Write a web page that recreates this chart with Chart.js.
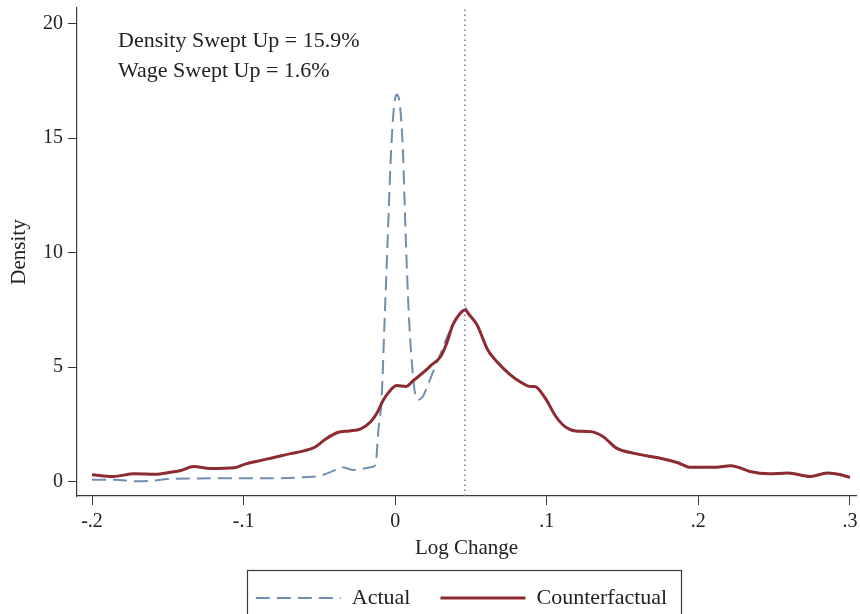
<!DOCTYPE html>
<html>
<head>
<meta charset="utf-8">
<script src="https://cdn.jsdelivr.net/npm/chart.js@4"></script>
<style>
  html, body { margin: 0; padding: 0; background: #fff; }
  #wrap { width: 860px; height: 614px; }
</style>
</head>
<body>
<div id="wrap"><canvas id="densityChart" width="860" height="614"></canvas></div>
<script>
// tick positions
const xTicks = [-0.2, -0.1, 0, 0.1, 0.2, 0.3];
const yTicks = [0, 5, 10, 15, 20];
const markerX = 0.046;
const notes = ["Density Swept Up = 15.9%", "Wage Swept Up = 1.6%"];

// Actual (dashed)
const actualX = [-0.200, -0.185, -0.170, -0.160, -0.150, -0.120, -0.090, -0.060, -0.050, -0.040,
                 -0.035, -0.028, -0.015, -0.013, -0.011, -0.009, -0.007, -0.005, -0.003, -0.001,
                 0.001, 0.003, 0.005, 0.007, 0.009, 0.011, 0.013, 0.015, 0.018, 0.022,
                 0.026, 0.031, 0.034, 0.040, 0.044, 0.046, 0.049, 0.054, 0.061, 0.067,
                 0.076, 0.084, 0.089, 0.092, 0.099, 0.106, 0.112, 0.119, 0.129, 0.137,
                 0.146, 0.157, 0.175, 0.186, 0.195, 0.212, 0.221, 0.226, 0.234, 0.247,
                 0.259, 0.274, 0.285, 0.294, 0.300];
const actualY = [0.09, 0.09, 0.02, 0.05, 0.12, 0.15, 0.15, 0.20, 0.26, 0.50,
                 0.64, 0.52, 0.65, 0.74, 2.30, 3.60, 7.00, 10.5, 14.0, 16.2,
                 16.9, 16.5, 14.6, 10.6, 7.30, 5.20, 3.90, 3.58, 3.70, 4.30,
                 4.97, 5.76, 6.28, 7.07, 7.50, 7.60, 7.28, 6.85, 5.76, 5.25,
                 4.67, 4.30, 4.16, 4.16, 3.65, 2.85, 2.41, 2.22, 2.19, 1.98,
                 1.47, 1.25, 1.03, 0.84, 0.63, 0.63, 0.70, 0.64, 0.45, 0.35,
                 0.38, 0.23, 0.38, 0.31, 0.19];

// Counterfactual (solid)
const cfX = [-0.200, -0.186, -0.172, -0.158, -0.148, -0.142, -0.133, -0.122, -0.106, -0.099,
             -0.091, -0.080, -0.069, -0.061, -0.053, -0.046, -0.038, -0.030, -0.023, -0.016,
             -0.012, -0.008, -0.003, 0.001, 0.007, 0.012, 0.018, 0.024, 0.030, 0.034,
             0.038, 0.043, 0.046, 0.049, 0.054, 0.061, 0.067, 0.076, 0.084, 0.089,
             0.092, 0.099, 0.106, 0.112, 0.119, 0.129, 0.137, 0.146, 0.157, 0.175,
             0.186, 0.195, 0.212, 0.221, 0.226, 0.234, 0.247, 0.259, 0.274, 0.285,
             0.294, 0.300];
const cfY = [0.31, 0.23, 0.35, 0.33, 0.42, 0.48, 0.67, 0.58, 0.61, 0.77,
             0.90, 1.06, 1.23, 1.34, 1.51, 1.86, 2.15, 2.22, 2.30, 2.63,
             3.00, 3.55, 4.01, 4.20, 4.16, 4.42, 4.74, 5.10, 5.47, 6.05,
             6.85, 7.36, 7.50, 7.28, 6.85, 5.76, 5.25, 4.67, 4.30, 4.16,
             4.16, 3.65, 2.85, 2.41, 2.22, 2.19, 1.98, 1.47, 1.25, 1.03,
             0.84, 0.63, 0.63, 0.70, 0.64, 0.45, 0.35, 0.38, 0.23, 0.38,
             0.31, 0.19];

const serif = "'Liberation Serif', 'Times New Roman', serif";
const inkColor = "#222";
const axisColor = "#3a3a3a";

function toPoints(xs, ys) {
    return xs.map((x, i) => ({ x: x, y: ys[i] }));
}

function fmtTick(v) {
    if (Math.abs(v) < 1e-9) return "0";
    let s = Math.abs(v).toFixed(1).replace(/^0/, "");
    return (v < 0 ? "-" : "") + s;
}

// move the legend so it is centred under the plot area, like Stata does
const legendPlacer = {
    id: "legendPlacer",
    afterLayout(chart) {
        chart.legend.left = chart.chartArea.left - 5;
        chart.legend.right = chart.chartArea.right - 5;
    },
    afterDraw(chart) {
        const lg = chart.legend;
        const boxes = lg.legendHitBoxes;
        if (!boxes || !boxes.length) return;
        const ctx = chart.ctx;
        const first = boxes[0];
        const last = boxes[boxes.length - 1];
        const left = Math.round(first.left - 9);
        const right = Math.round(last.left + last.width + 14);
        const top = Math.round(lg.top + 13);
        ctx.save();
        ctx.strokeStyle = axisColor;
        ctx.lineWidth = 1.2;
        ctx.strokeRect(left + 0.5, top + 0.5, right - left, chart.height - top + 10);
        ctx.restore();
    }
};

// text notes in the upper left of the plot
const notesPlugin = {
    id: "notes",
    afterDatasetsDraw(chart) {
        const ctx = chart.ctx;
        const area = chart.chartArea;
        ctx.save();
        ctx.font = "22px " + serif;
        ctx.fillStyle = inkColor;
        ctx.textBaseline = "alphabetic";
        ctx.textAlign = "left";
        notes.forEach((t, i) => ctx.fillText(t, area.left + 41, area.top + 39 + i * 30));
        ctx.restore();
    }
};

let ctx = document.getElementById("densityChart").getContext("2d");

let densityChart = new Chart(ctx, {
    type: "line",
    data: {
        datasets: [
            {
                label: "Actual",
                data: toPoints(actualX, actualY),
                borderColor: "#6f8fb1",
                borderWidth: 2,
                borderDash: [14, 7],
                pointRadius: 0,
                fill: false,
                cubicInterpolationMode: "monotone",
                order: 2
            },
            {
                label: "Counterfactual",
                data: toPoints(cfX, cfY),
                borderColor: "#8e2b30",
                borderWidth: 3,
                pointRadius: 0,
                fill: false,
                cubicInterpolationMode: "monotone",
                order: 1
            },
            {
                label: "marker",
                data: [{ x: markerX, y: -0.62 }, { x: markerX, y: 20.68 }],
                borderColor: "#7a7a7a",
                borderWidth: 1.5,
                borderDash: [1.5, 3.5],
                pointRadius: 0,
                fill: false,
                order: 3
            }
        ]
    },
    options: {
        responsive: false,
        animation: false,
        layout: { padding: { top: 8, right: 4, left: 0, bottom: 0 } },
        plugins: {
            tooltip: { enabled: false },
            legend: {
                position: "bottom",
                maxHeight: 57,
                labels: {
                    filter: item => item.datasetIndex < 2,
                    sort: (a, b) => a.datasetIndex - b.datasetIndex,
                    generateLabels: chart => {
                        const items = Chart.defaults.plugins.legend.labels.generateLabels(chart);
                        items.forEach(item => {
                            const ds = chart.data.datasets[item.datasetIndex];
                            item.lineDash = ds.borderDash || [];
                            item.lineWidth = ds.borderWidth;
                            item.strokeStyle = ds.borderColor;
                        });
                        return items;
                    },
                    usePointStyle: true,
                    pointStyle: "line",
                    pointStyleWidth: 85,
                    padding: 30,
                    color: inkColor,
                    font: { family: serif, size: 22 }
                }
            }
        },
        scales: {
            x: {
                type: "linear",
                min: -0.2099,
                max: 0.304,
                afterBuildTicks: axis => { axis.ticks = xTicks.map(v => ({ value: v })); },
                afterFit: axis => {
                    axis.height = 61;
                    axis.paddingLeft = 0;
                    axis.paddingRight = 0;
                },
                grid: { drawOnChartArea: false, drawTicks: true, tickLength: 9, color: axisColor },
                border: { display: true, color: axisColor, width: 1.2 },
                ticks: {
                    callback: v => fmtTick(v),
                    color: inkColor,
                    padding: 5,
                    maxRotation: 0,
                    font: { family: serif, size: 20 }
                },
                title: {
                    display: true,
                    text: "Log Change",
                    color: inkColor,
                    padding: { top: 0, bottom: -4 },
                    font: { family: serif, size: 21 }
                }
            },
            y: {
                min: -0.62,
                max: 20.68,
                afterBuildTicks: axis => { axis.ticks = yTicks.map(v => ({ value: v })); },
                afterFit: axis => {
                    axis.width = 77;
                    axis.paddingTop = 0;
                    axis.paddingBottom = 0;
                },
                grid: { drawOnChartArea: false, drawTicks: true, tickLength: 9, color: axisColor },
                border: { display: true, color: axisColor, width: 1.2 },
                ticks: {
                    color: inkColor,
                    padding: 5,
                    font: { family: serif, size: 20 }
                },
                title: {
                    display: true,
                    text: "Density",
                    color: inkColor,
                    padding: { top: 7, bottom: 0 },
                    font: { family: serif, size: 21 }
                }
            }
        }
    },
    plugins: [legendPlacer, notesPlugin]
});
</script>
</body>
</html>
